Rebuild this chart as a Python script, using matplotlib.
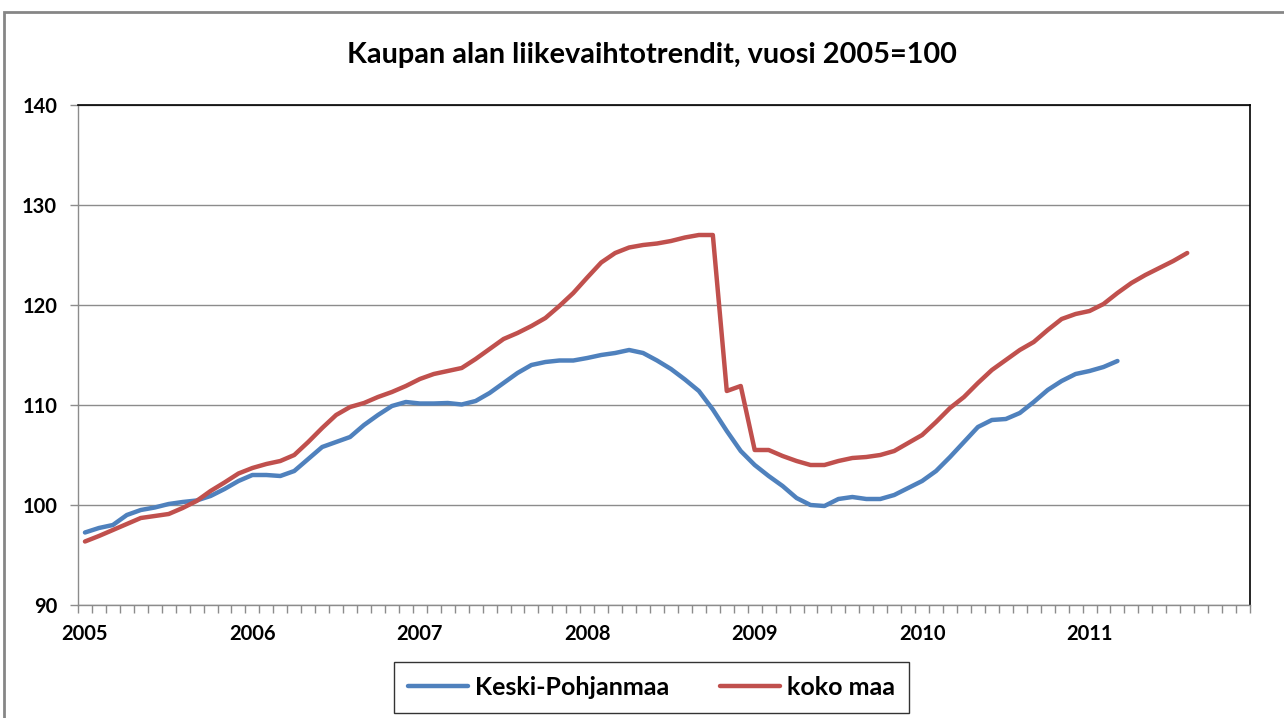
import matplotlib
matplotlib.use("Agg")
import matplotlib.pyplot as plt
from matplotlib.patches import Rectangle
from matplotlib.ticker import FixedLocator, NullFormatter

plt.rcParams['font.family'] = ['Lato', 'DejaVu Sans']

title = "Kaupan alan liikevaihtotrendit, vuosi 2005=100"
years = ["2005", "2006", "2007", "2008", "2009", "2010", "2011"]
n_months = 84  # 2005-01 .. 2011-12

keski_pohjanmaa = [
    97.25, 97.7, 98.0, 99.0, 99.5, 99.75, 100.1, 100.3, 100.45, 100.9, 101.6, 102.4,
    103.0, 103.0, 102.9, 103.4, 104.6, 105.8, 106.3, 106.8, 108.0, 109.0, 109.9, 110.3,
    110.15, 110.15, 110.2, 110.05, 110.4, 111.2, 112.2, 113.2, 114.0, 114.3, 114.45, 114.45,
    114.7, 115.0, 115.2, 115.5, 115.2, 114.45, 113.6, 112.55, 111.4, 109.55, 107.4, 105.4,
    104.0, 102.9, 101.9, 100.7, 100.0, 99.9, 100.6, 100.8, 100.6, 100.6, 101.0, 101.7,
    102.4, 103.4, 104.8, 106.3, 107.8, 108.5, 108.6, 109.2, 110.3, 111.5, 112.4, 113.1,
    113.4, 113.8, 114.4,
]
koko_maa = [
    96.35, 96.9, 97.5, 98.1, 98.7, 98.9, 99.1, 99.7, 100.4, 101.4, 102.25, 103.15,
    103.7, 104.1, 104.4, 105.0, 106.3, 107.7, 109.0, 109.8, 110.2, 110.8, 111.3, 111.9,
    112.6, 113.1, 113.4, 113.7, 114.6, 115.6, 116.6, 117.2, 117.9, 118.7, 119.9, 121.2,
    122.75, 124.25, 125.2, 125.75, 126.0, 126.15, 126.4, 126.75, 127.0, 127.0, 111.4, 111.9,
    105.5, 105.5, 104.9, 104.4, 104.0, 104.0, 104.4, 104.7, 104.8, 105.0, 105.4, 106.2,
    107.0, 108.3, 109.7, 110.8, 112.2, 113.5, 114.5, 115.5, 116.3, 117.5, 118.6, 119.1,
    119.4, 120.1, 121.2, 122.2, 123.0, 123.7, 124.4, 125.2,
]
y_ticks = [90, 100, 110, 120, 130, 140]

W, H = 1284, 718
fig = plt.figure(figsize=(W / 100, H / 100), dpi=100)
fig.patch.set_facecolor("white")

# chart-area border
fig.add_artist(Rectangle((4 / W, -0.05), 1.2, 1 - 12 / H + 0.05, transform=fig.transFigure,
                         fill=False, edgecolor="#868686", linewidth=2.0))

ax = fig.add_axes([78 / W, 1 - 605 / H, (1250 - 78) / W, (605 - 105) / H])

blue = "#4F81BD"
red = "#C0504D"
ax.plot(range(len(keski_pohjanmaa)), keski_pohjanmaa, color=blue, lw=3.2,
        label="Keski-Pohjanmaa", solid_joinstyle="round", solid_capstyle="round", zorder=3)
ax.plot(range(len(koko_maa)), koko_maa, color=red, lw=3.2,
        label="koko maa", solid_joinstyle="round", solid_capstyle="round", zorder=3)

ax.set_xlim(-0.5, n_months - 0.5)
ax.set_ylim(90, 140)
ax.set_yticks(y_ticks)
ax.set_yticklabels([str(v) for v in y_ticks], fontsize=14.5, fontweight="bold")
ax.yaxis.grid(True, color="#8c8c8c", linewidth=1.0)
ax.set_axisbelow(True)

ax.set_xticks([12 * i for i in range(len(years))])
ax.set_xticklabels(years, fontsize=14.5, fontweight="bold")
ax.xaxis.set_minor_locator(FixedLocator([i - 0.5 for i in range(n_months + 1)]))
ax.xaxis.set_minor_formatter(NullFormatter())
ax.tick_params(axis="x", which="major", length=0, pad=13.5)
ax.tick_params(axis="x", which="minor", length=6, color="#8c8c8c", width=1.0)
ax.tick_params(axis="y", length=6, color="#8c8c8c", width=1.0, pad=9)

for s in ["left", "bottom"]:
    ax.spines[s].set_color("#8c8c8c")
    ax.spines[s].set_linewidth(1.0)
for s in ["top", "right"]:
    ax.spines[s].set_color("black")
    ax.spines[s].set_linewidth(1.2)

fig.text(652 / W, 1 - 55 / H, title, ha="center", va="center", fontsize=20.8, fontweight="bold")

leg = fig.legend(loc="center", bbox_to_anchor=(651.5 / W, 1 - 687.5 / H), ncol=2,
                 frameon=True, fancybox=False, edgecolor="black",
                 prop={"weight": "bold", "size": 18}, handlelength=2.4, columnspacing=2.0,
                 borderpad=0.55, handletextpad=0.3, borderaxespad=0)
leg.get_frame().set_linewidth(1.0)

fig.savefig("out.png", dpi=100)
